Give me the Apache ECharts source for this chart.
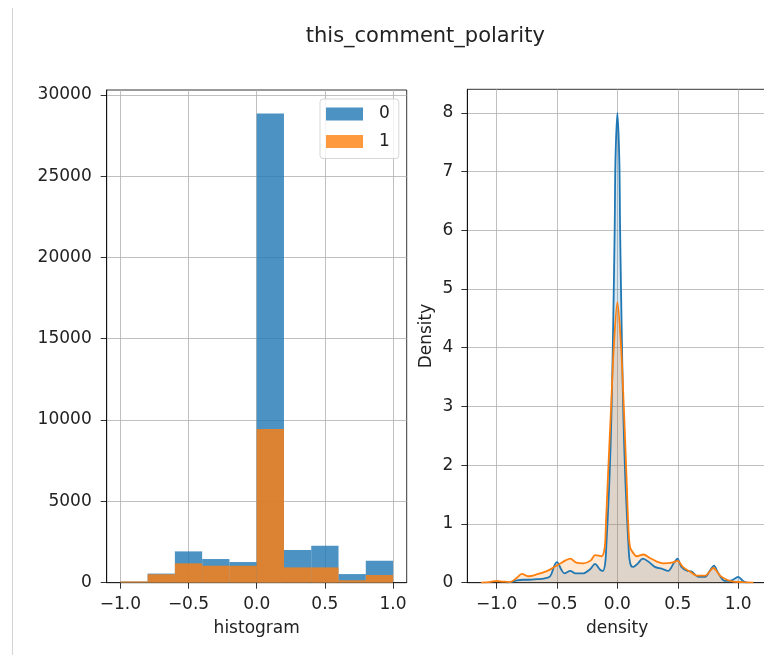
<!DOCTYPE html>
<html><head><meta charset="utf-8">
<script src="https://cdn.jsdelivr.net/npm/echarts@6/dist/echarts.min.js"></script>
<style>html,body{margin:0;padding:0;background:#fff}#c{width:764px;height:655px}</style>
</head><body><div id="c"></div>
<script>
// ---------- data ----------
const chartTitle = 'this_comment_polarity';
const seriesNames = ['0', '1'];
const histEdges = [-1.0, -0.8, -0.6, -0.4, -0.2, 0.0, 0.2, 0.4, 0.6, 0.8, 1.0];
const histCounts0 = [70, 560, 1925, 1455, 1270, 28850, 2010, 2275, 530, 1350];
const histCounts1 = [80, 520, 1190, 1045, 1040, 9450, 940, 940, 150, 475];
const histXTicks = [-1.0, -0.5, 0.0, 0.5, 1.0];
const histYTicks = [0, 5000, 10000, 15000, 20000, 25000, 30000];

const kdeX0 = [-0.92, -0.87, -0.833, -0.78, -0.73, -0.67, -0.61, -0.557, -0.52, -0.5, -0.464, -0.44, -0.39, -0.35, -0.28, -0.226, -0.185, -0.143, -0.12, -0.1, -0.09, -0.08, -0.065, -0.05, -0.04, -0.03, -0.022, -0.016, 0.0, 0.016, 0.022, 0.03, 0.04, 0.05, 0.065, 0.08, 0.09, 0.1, 0.115, 0.133, 0.17, 0.21, 0.256, 0.31, 0.366, 0.42, 0.466, 0.497, 0.53, 0.58, 0.616, 0.67, 0.726, 0.773, 0.8, 0.836, 0.89, 0.947, 1.0, 1.04, 1.07];
const kdeY0 = [0, 0.02, 0.04, 0.05, 0.05, 0.06, 0.07, 0.11, 0.3, 0.35, 0.22, 0.16, 0.2, 0.16, 0.16, 0.23, 0.32, 0.22, 0.2, 0.35, 0.7, 1.1, 1.8, 2.8, 3.8, 5.0, 6.1, 7.2, 8.0, 7.2, 6.1, 5.0, 3.8, 2.8, 1.8, 1.1, 0.7, 0.4, 0.28, 0.27, 0.33, 0.41, 0.36, 0.27, 0.24, 0.2, 0.33, 0.41, 0.27, 0.2, 0.19, 0.1, 0.1, 0.23, 0.29, 0.16, 0.03, 0.04, 0.1, 0.03, 0];
const kdeX1 = [-1.13, -1.05, -1.0, -0.95, -0.89, -0.84, -0.79, -0.74, -0.67, -0.58, -0.52, -0.47, -0.43, -0.39, -0.34, -0.28, -0.22, -0.185, -0.13, -0.105, -0.095, -0.074, -0.052, -0.03, 0.0, 0.031, 0.053, 0.072, 0.091, 0.105, 0.133, 0.16, 0.216, 0.27, 0.326, 0.38, 0.45, 0.497, 0.546, 0.6, 0.657, 0.726, 0.795, 0.85, 0.906, 0.96, 1.04, 1.126];
const kdeY1 = [0, 0.015, 0.03, 0.02, 0.01, 0.07, 0.15, 0.11, 0.14, 0.2, 0.27, 0.33, 0.38, 0.41, 0.34, 0.33, 0.38, 0.47, 0.45, 0.6, 1.0, 2.0, 3.0, 4.0, 4.78, 4.0, 3.0, 2.0, 0.95, 0.6, 0.5, 0.45, 0.48, 0.42, 0.36, 0.33, 0.34, 0.37, 0.26, 0.19, 0.12, 0.12, 0.25, 0.12, 0.05, 0.02, 0.01, 0];
const kdeXTicks = [-1.0, -0.5, 0.0, 0.5, 1.0];
const kdeYTicks = [0, 1, 2, 3, 4, 5, 6, 7, 8];
const xLabelLeft = 'histogram';
const xLabelRight = 'density';
const yLabelRight = 'Density';

// ---------- styling ----------
const FONT = 'DejaVu Sans';
const TXT = '#222';
const histFill = ['rgba(31,119,180,0.8)', 'rgba(255,127,14,0.8)'];
const kdeLine = ['#1f77b4', '#ff7f0e'];
const kdeArea = ['rgba(31,119,180,0.25)', 'rgba(255,127,14,0.25)'];

const minus = v => String(v).replace('-', '\u2212');
const fmt1 = v => minus(Number(v).toFixed(1));
const fmt0 = v => minus(String(Math.round(v)));

function axisCommon(ticks, fmt, margin) {
  return {
    axisLine: { show: true, onZero: false, lineStyle: { color: '#000', width: 0.8 } },
    axisTick: { show: true, length: 6, customValues: ticks, lineStyle: { color: '#000', width: 0.8 } },
    axisLabel: { customValues: ticks, formatter: fmt, fontSize: 17, color: TXT, fontFamily: FONT, margin: margin },
    splitLine: { show: true, lineStyle: { color: '#b0b0b0', width: 0.8 } }
  };
}

const histMax = Math.max(...histCounts0, ...histCounts1) * 1.05;
const kdeXmin = Math.min(...kdeX0, ...kdeX1), kdeXmax = Math.max(...kdeX0, ...kdeX1);
const kdePad = (kdeXmax - kdeXmin) * 0.05;
const kdeYmax = Math.max(...kdeY0, ...kdeY1) * 1.05;
const histPad = (histEdges[histEdges.length - 1] - histEdges[0]) * 0.05;

function histData(counts) {
  return counts.map((c, i) => [histEdges[i], histEdges[i + 1], c]);
}
function renderBin(params, api) {
  const p0 = api.coord([api.value(0), 0]);
  const p1 = api.coord([api.value(1), api.value(2)]);
  return {
    type: 'rect',
    shape: { x: p0[0], y: p1[1], width: p1[0] - p0[0], height: p0[1] - p1[1] },
    style: { fill: api.visual('color') }
  };
}
const pairs = (xs, ys) => xs.map((x, i) => [x, ys[i]]);

const option = {
  animation: false,
  backgroundColor: '#fff',
  textStyle: { fontFamily: FONT },
  graphic: [
    { type: 'line', shape: { x1: 12.5, y1: 8, x2: 12.5, y2: 655 }, style: { stroke: '#d4d4d4', lineWidth: 1 } },
    { type: 'text', x: 425.3, y: 37, style: { text: chartTitle, fontSize: 21, fontFamily: FONT, fill: TXT, textAlign: 'center', textVerticalAlign: 'middle' } }
  ],
  legend: {
    data: seriesNames.map((n, i) => ({ name: n, itemStyle: { color: histFill[i] } })),
    orient: 'vertical',
    left: 320, top: 99,
    padding: [5, 9, 7, 6],
    itemWidth: 37, itemHeight: 13, itemGap: 7.5,
    icon: 'rect',
    backgroundColor: 'rgba(255,255,255,0.8)',
    borderColor: 'rgba(204,204,204,0.8)', borderWidth: 1, borderRadius: 3,
    textStyle: { fontSize: 17, color: TXT, fontFamily: FONT, lineHeight: 20, padding: [0, 0, 0, 11] },
    selectedMode: false
  },
  grid: [
    { left: 106.7, width: 300, top: 90, height: 492.7, show: true, borderColor: '#000', borderWidth: 0.8, outerBoundsMode: 'none', containLabel: false },
    { left: 467.3, width: 299.7, top: 89.3, height: 493.4, show: true, borderColor: '#000', borderWidth: 0.8, outerBoundsMode: 'none', containLabel: false }
  ],
  xAxis: [
    Object.assign({ type: 'value', gridIndex: 0, min: histEdges[0] - histPad, max: histEdges[histEdges.length - 1] + histPad,
      name: xLabelLeft, nameLocation: 'middle', nameGap: 37, nameTextStyle: { fontSize: 17, color: TXT, fontFamily: FONT } },
      axisCommon(histXTicks, fmt1, 13)),
    Object.assign({ type: 'value', gridIndex: 1, min: kdeXmin - kdePad, max: kdeXmax + kdePad,
      name: xLabelRight, nameLocation: 'middle', nameGap: 37, nameTextStyle: { fontSize: 17, color: TXT, fontFamily: FONT } },
      axisCommon(kdeXTicks, fmt1, 13))
  ],
  yAxis: [
    Object.assign({ type: 'value', gridIndex: 0, min: 0, max: histMax }, axisCommon(histYTicks, fmt0, 15)),
    Object.assign({ type: 'value', gridIndex: 1, min: 0, max: kdeYmax,
      name: yLabelRight, nameLocation: 'middle', nameGap: 32, nameTextStyle: { fontSize: 17, color: TXT, fontFamily: FONT } },
      axisCommon(kdeYTicks, fmt0, 14))
  ],
  series: [
    { name: seriesNames[0], type: 'custom', xAxisIndex: 0, yAxisIndex: 0, renderItem: renderBin,
      itemStyle: { color: histFill[0] }, encode: { x: [0, 1], y: 2 }, data: histData(histCounts0) },
    { name: seriesNames[1], type: 'custom', xAxisIndex: 0, yAxisIndex: 0, renderItem: renderBin,
      itemStyle: { color: histFill[1] }, encode: { x: [0, 1], y: 2 }, data: histData(histCounts1) },
    { name: 'kde0', type: 'line', xAxisIndex: 1, yAxisIndex: 1, showSymbol: false, smooth: 0.3,
      lineStyle: { color: kdeLine[0], width: 1.8 }, itemStyle: { color: kdeLine[0] },
      areaStyle: { color: kdeArea[0], origin: 'start' }, data: pairs(kdeX0, kdeY0) },
    { name: 'kde1', type: 'line', xAxisIndex: 1, yAxisIndex: 1, showSymbol: false, smooth: 0.3,
      lineStyle: { color: kdeLine[1], width: 1.8 }, itemStyle: { color: kdeLine[1] },
      areaStyle: { color: kdeArea[1], origin: 'start' }, data: pairs(kdeX1, kdeY1) }
  ]
};
const chart = echarts.init(document.getElementById('c'));
chart.setOption(option);
</script></body></html>
